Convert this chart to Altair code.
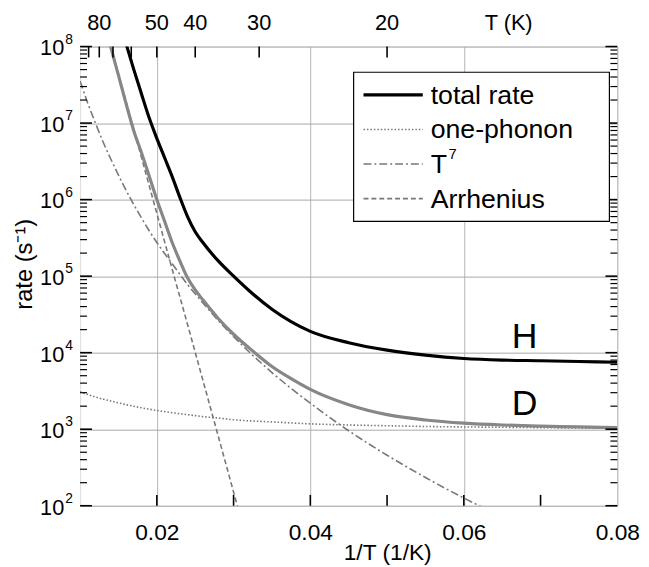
import altair as alt
import pandas as pd

# ---------------- data ----------------
# H: total rate (black)
h_x = [0.0158, 0.017, 0.018, 0.019, 0.020, 0.021, 0.022, 0.023, 0.024, 0.025, 0.026,
       0.028, 0.030, 0.032, 0.035, 0.040, 0.045, 0.050, 0.055, 0.060, 0.065, 0.070,
       0.075, 0.080]
h_rate = [1.26e8, 5.0e7, 2.4e7, 1.17e7, 6.3e6, 3.55e6, 2.0e6, 1.07e6, 6.0e5, 3.8e5,
          2.75e5, 1.58e5, 1.0e5, 6.5e4, 3.7e4, 1.9e4, 1.35e4, 1.08e4, 9.3e3, 8.4e3,
          8.0e3, 7.85e3, 7.67e3, 7.5e3]

# D: total rate (grey)
d_x = [0.0138, 0.014, 0.015, 0.016, 0.017, 0.018, 0.019, 0.020, 0.021, 0.022, 0.023,
       0.024, 0.025, 0.026, 0.028, 0.030, 0.0325, 0.035, 0.0375, 0.040, 0.045, 0.050,
       0.055, 0.060, 0.065, 0.070, 0.075, 0.080]
d_rate = [1.17e8, 9.8e7, 4.2e7, 1.78e7, 7.9e6, 4.1e6, 2.04e6, 1.0e6, 5.25e5, 2.75e5,
          1.58e5, 9.5e4, 6.6e4, 4.9e4, 2.8e4, 1.74e4, 1.05e4, 6.6e3, 4.57e3, 3.31e3,
          2.09e3, 1.55e3, 1.32e3, 1.2e3, 1.135e3, 1.096e3, 1.072e3, 1.047e3]

# one-phonon (dotted)
p_x = [0.010, 0.012, 0.014, 0.016, 0.018, 0.020, 0.022, 0.024, 0.026, 0.028, 0.030,
       0.035, 0.040, 0.045, 0.050, 0.055, 0.060, 0.065, 0.070, 0.075, 0.080]
p_rate = [3090, 2630, 2340, 2090, 1905, 1760, 1640, 1550, 1460, 1400, 1330, 1245, 1175,
          1135, 1110, 1085, 1070, 1060, 1047, 1035, 1023]

# T^7 (dash-dot)
t_x = [0.010, 0.011, 0.012, 0.013, 0.014, 0.016, 0.018, 0.020, 0.022, 0.024, 0.026,
       0.028, 0.030, 0.035, 0.040, 0.045, 0.050, 0.055, 0.060, 0.065]
t_rate = [3.55e7, 1.82e7, 1.0e7, 5.65e6, 3.39e6, 1.32e6, 5.75e5, 2.75e5, 1.45e5, 7.76e4,
          4.47e4, 2.63e4, 1.62e4, 5.5e3, 2.19e3, 955, 457, 234, 126, 72]

# Arrhenius (dashed)
a_x = [0.0138, 0.016, 0.018, 0.020, 0.022, 0.024, 0.026, 0.028, 0.030, 0.032]
a_rate = [1.2e8, 1.9e7, 3.55e6, 6.6e5, 1.23e5, 2.34e4, 4.37e3, 813, 151, 28]

# axes
x_tick_vals = [0.02, 0.03, 0.04, 0.05, 0.06, 0.07]
x_label_vals = [0.02, 0.04, 0.06, 0.08]
top_tick_T = [90, 80, 70, 60, 50, 40, 30, 20]
top_label_T = [80, 50, 40, 30, 20]
decades = [1e2, 1e3, 1e4, 1e5, 1e6, 1e7, 1e8]
decade_exp = ["2", "3", "4", "5", "6", "7", "8"]
minor_vals = [m * d for d in decades[:-1] for m in range(2, 10)]

legend_labels = ["total rate", "one-phonon", "T", "Arrhenius"]

# ---------------- layout / style ----------------
W, H = 544, 465
FONT = "Liberation Sans"
GREY_D = "#878787"
GREY = "#777777"

xs = alt.Scale(domain=[0.01, 0.08], nice=False, zero=False)
ys = alt.Scale(type="log", domain=[100, 1e8], nice=False)
x_axis = alt.Axis(values=x_label_vals, format=".2f", labelFontSize=23, labelFont=FONT,
                  labelColor="black", labelPadding=16, labelFlush=False, labelOverlap=False,
                  ticks=False, domain=False, grid=True, gridColor="#b5b5b5", gridWidth=1,
                  title="1/T (1/K)", titleFont=FONT, titleFontSize=23,
                  titleFontWeight="normal", titleColor="black", titleX=311, titleY=54,
                  titleBaseline="alphabetic")
y_axis = alt.Axis(values=decades, labels=False, ticks=False, domain=False, grid=True,
                  gridColor="#a8a8a8", gridWidth=1, title=None)
X = alt.X("x:Q", scale=xs, axis=x_axis)
Y = alt.Y("rate:Q", scale=ys, axis=y_axis)

dummy = pd.DataFrame({"a": [0]})

def line(xv, yv, color, width, dash=None):
    df = pd.DataFrame({"x": xv, "rate": yv})
    kw = dict(color=color, strokeWidth=width, clip=True, interpolate="monotone")
    if dash:
        kw["strokeDash"] = dash
    return alt.Chart(df).mark_line(**kw).encode(x=X, y=Y)

styles = {
    "total rate": dict(color="black", width=3.2, dash=None),
    "one-phonon": dict(color=GREY, width=1.6, dash=[1.5, 2]),
    "T": dict(color=GREY, width=1.6, dash=[8, 3, 2, 3]),
    "Arrhenius": dict(color=GREY, width=1.6, dash=[5, 3]),
}

layers = []
layers.append(line(p_x, p_rate, **styles["one-phonon"]))
layers.append(line(t_x, t_rate, **styles["T"]))
layers.append(line(a_x, a_rate, **styles["Arrhenius"]))
layers.append(line(d_x, d_rate, GREY_D, 3.2))
layers.append(line(h_x, h_rate, **styles["total rate"]))

# inward ticks, bottom
layers.append(alt.Chart(pd.DataFrame({"x": x_tick_vals})).mark_rule(color="black", strokeWidth=1.6)
              .encode(x=X, y=alt.value(H), y2=alt.value(H - 11)))
# inward ticks, top (temperature)
layers.append(alt.Chart(pd.DataFrame({"T": top_tick_T})).transform_calculate(x="1/datum.T")
              .mark_rule(color="black", strokeWidth=1.6)
              .encode(x=X, y=alt.value(0), y2=alt.value(11)))
layers.append(alt.Chart(pd.DataFrame({"T": top_label_T})).transform_calculate(x="1/datum.T")
              .mark_text(fontSize=22, font=FONT, color="black", baseline="alphabetic")
              .encode(x=X, y=alt.value(-17), text=alt.Text("T:Q")))
layers.append(alt.Chart(dummy).mark_text(fontSize=22, font=FONT, color="black",
                                         baseline="alphabetic", text="T (K)")
              .encode(x=alt.value(434), y=alt.value(-17)))

# y ticks left/right
dec_df = pd.DataFrame({"rate": decades, "base": ["10"] * len(decades), "exp": decade_exp})
min_df = pd.DataFrame({"rate": minor_vals})
for x0, sgn in [(0, 1), (W, -1)]:
    layers.append(alt.Chart(dec_df).mark_rule(color="black", strokeWidth=1.6)
                  .encode(y=Y, x=alt.value(x0), x2=alt.value(x0 + sgn * 12)))
    layers.append(alt.Chart(min_df).mark_rule(color="black", strokeWidth=1.2)
                  .encode(y=Y, x=alt.value(x0), x2=alt.value(x0 + sgn * 7)))

# y tick labels 10^n
layers.append(alt.Chart(dec_df).mark_text(fontSize=22, font=FONT, color="black", align="right",
                                          baseline="middle", dy=2)
              .encode(y=Y, x=alt.value(-16), text="base:N"))
layers.append(alt.Chart(dec_df).mark_text(fontSize=14, font=FONT, color="black", align="left",
                                          baseline="middle", dy=-7)
              .encode(y=Y, x=alt.value(-15), text="exp:N"))

# y title
layers.append(alt.Chart(dummy).mark_text(fontSize=24, font=FONT, color="black", angle=270,
                                         align="center", baseline="middle", text="rate (s⁻¹)")
              .encode(x=alt.value(-56), y=alt.value(H / 2 - 12)))

# H / D labels
layers.append(alt.Chart(dummy).mark_text(fontSize=36, font=FONT, color="black",
                                         align="center", baseline="middle", text="H")
              .encode(x=alt.value(450), y=alt.value(294)))
layers.append(alt.Chart(dummy).mark_text(fontSize=36, font=FONT, color="black",
                                         align="center", baseline="middle", text="D")
              .encode(x=alt.value(450), y=alt.value(362)))

# legend
LX0, LX1, LY0, LY1 = 277, 536, 26, 177
layers.append(alt.Chart(dummy).mark_rect(fill="white", stroke="black", strokeWidth=1.2)
              .encode(x=alt.value(LX0), x2=alt.value(LX1), y=alt.value(LY0), y2=alt.value(LY1)))
row0, step = 49, 35
for i, lab in enumerate(legend_labels):
    st = styles[lab]
    ry = row0 + i * step
    kw = dict(color=st["color"], strokeWidth=st["width"])
    if st["dash"]:
        kw["strokeDash"] = st["dash"]
    layers.append(alt.Chart(dummy).mark_rule(**kw)
                  .encode(x=alt.value(287), x2=alt.value(347), y=alt.value(ry)))
    layers.append(alt.Chart(dummy).mark_text(fontSize=27, font=FONT, color="black", align="left",
                                             baseline="middle", text=lab)
                  .encode(x=alt.value(355), y=alt.value(ry + 1)))
    if lab == "T":
        layers.append(alt.Chart(dummy).mark_text(fontSize=15, font=FONT, color="black",
                                                 align="left", baseline="middle", text="7")
                      .encode(x=alt.value(373), y=alt.value(ry - 10)))

chart = alt.layer(*layers).properties(
    width=W, height=H,
    autosize=alt.AutoSizeParams(type="none"),
    padding={"left": 73, "top": 35.5, "right": 24, "bottom": 58},
).configure_view(stroke="black", strokeWidth=2).configure(font=FONT)

chart.save("out.html", embed_options={"renderer": "svg", "actions": False})
